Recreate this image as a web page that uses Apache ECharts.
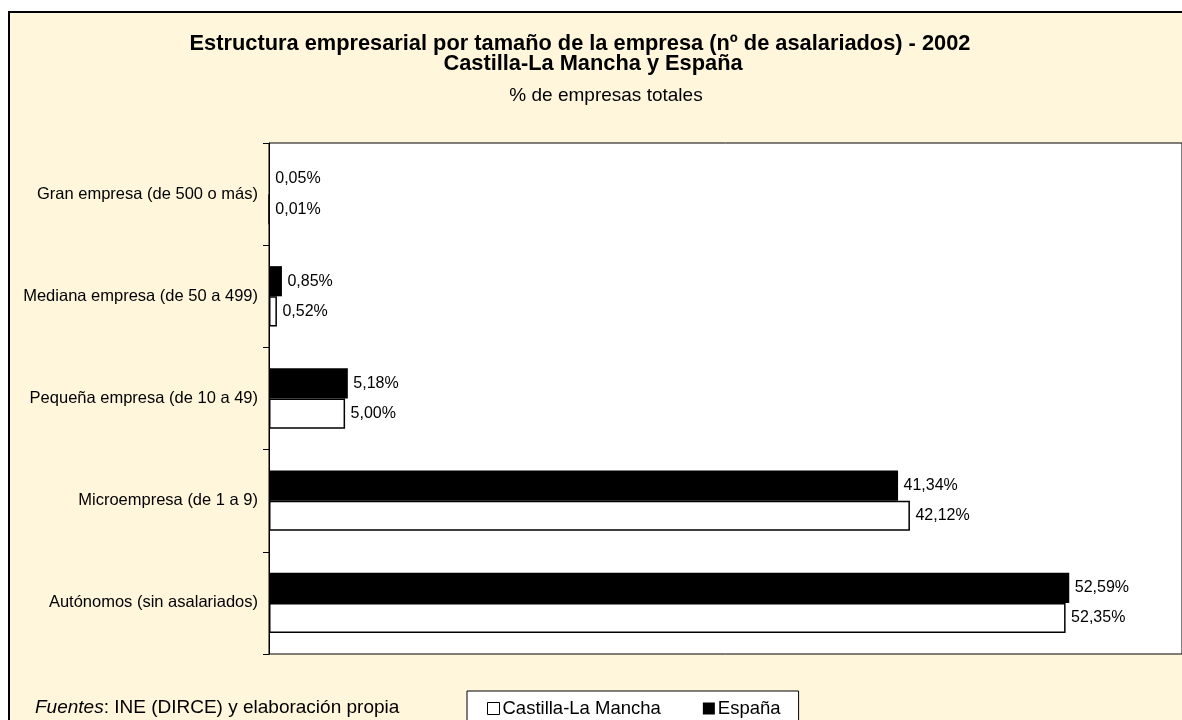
<!DOCTYPE html>
<html>
<head>
<meta charset="utf-8">
<title>Estructura empresarial 2002</title>
<script src="https://cdn.jsdelivr.net/npm/echarts@6/dist/echarts.min.js"></script>
<style>
  html, body { margin: 0; padding: 0; background: #fff; }
  #chart { width: 1182px; height: 720px; }
</style>
</head>
<body>
<div id="chart"></div>
<script>
// categorías (de abajo hacia arriba, como las pinta el eje)
const categories = [
  'Autónomos (sin asalariados)',
  'Microempresa (de 1 a 9)',
  'Pequeña empresa (de 10 a 49)',
  'Mediana empresa (de 50 a 499)',
  'Gran empresa (de 500 o más)'
]
const castillaValues = [52.35, 42.12, 5.00, 0.52, 0.01]
const espanaValues = [52.59, 41.34, 5.18, 0.85, 0.05]

const FONT = 'Liberation Sans, Arial, sans-serif'
const pct = p => p.value.toFixed(2).replace('.', ',') + '%'

const chart = echarts.init(document.getElementById('chart'))

// textos de cabecera, centrados a mano
const headText = (text, x, y, font) => ({
  type: 'text',
  x: x,
  y: y,
  style: { text: text, font: font, fill: '#000', textAlign: 'center', textVerticalAlign: 'middle' }
})

chart.setOption({
  backgroundColor: '#fff',
  textStyle: { fontFamily: FONT, color: '#000' },
  graphic: [
    {
      type: 'rect',
      z: -100,
      silent: true,
      shape: { x: 9, y: 12, width: 1200, height: 730 },
      style: { fill: '#FFF6DC', stroke: '#000', lineWidth: 2 }
    },
    headText('Estructura empresarial por tamaño de la empresa (nº de asalariados) - 2002', 580, 44, 'bold 21.8px ' + FONT),
    headText('Castilla-La Mancha y España', 593, 64, 'bold 21.8px ' + FONT),
    headText('% de empresas totales', 606, 96, '19px ' + FONT),
    {
      type: 'text',
      x: 35,
      y: 708,
      style: {
        text: '{i|Fuentes}: INE (DIRCE) y elaboración propia',
        font: '19px ' + FONT,
        fill: '#000',
        textVerticalAlign: 'middle',
        rich: {
          i: { fontStyle: 'italic', fontSize: 19, fontFamily: FONT }
        }
      }
    }
  ],
  legend: {
    left: 467,
    top: 691,
    padding: [8, 18, 20, 20],
    itemGap: 42,
    itemWidth: 12,
    itemHeight: 12,
    itemStyle: { borderWidth: 1 },
    icon: 'rect',
    backgroundColor: '#fff',
    borderColor: '#000',
    borderWidth: 1,
    textStyle: { fontSize: 18.5, fontFamily: FONT, color: '#000', padding: [0, 0, 0, -2] },
    data: ['Castilla-La Mancha', 'España']
  },
  grid: {
    left: 269,
    top: 143,
    right: -2,
    bottom: 66,
    show: true,
    backgroundColor: '#fff',
    borderColor: '#000',
    borderWidth: 1
  },
  xAxis: {
    type: 'value',
    min: 0,
    max: 60,
    show: false
  },
  yAxis: {
    type: 'category',
    data: categories,
    axisLine: { lineStyle: { color: '#000', width: 1 } },
    axisTick: { show: true, length: 6, lineStyle: { color: '#000' } },
    axisLabel: { fontSize: 16.5, fontFamily: FONT, color: '#000', margin: 11 }
  },
  series: [
    {
      name: 'España',
      type: 'bar',
      data: espanaValues,
      barGap: '0%',
      barCategoryGap: '41%',
      itemStyle: { color: '#000' },
      label: { show: true, position: 'right', distance: 5.5, fontSize: 16, fontFamily: FONT, color: '#000', formatter: pct }
    },
    {
      name: 'Castilla-La Mancha',
      type: 'bar',
      data: castillaValues,
      barGap: '0%',
      barCategoryGap: '41%',
      itemStyle: { color: '#fff', borderColor: '#000', borderWidth: 1.5 },
      label: { show: true, position: 'right', distance: 5.5, fontSize: 16, fontFamily: FONT, color: '#000', formatter: pct }
    }
  ]
})
</script>
</body>
</html>
